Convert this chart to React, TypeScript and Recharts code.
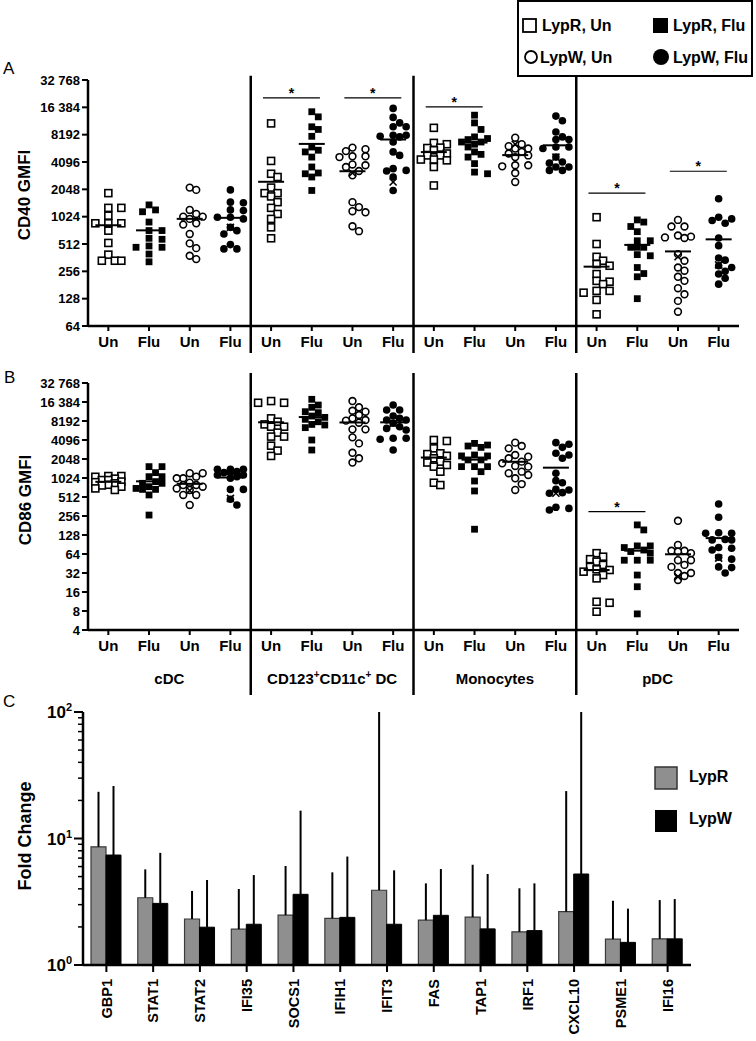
import React from 'react';
import {
  ScatterChart,
  Scatter,
  XAxis,
  YAxis,
  ReferenceLine,
  ReferenceDot,
  BarChart,
  Bar,
  ErrorBar,
} from 'recharts';

const FONT = '"Liberation Sans", Arial, Helvetica, sans-serif';

// ---------- categories / labels ----------
const cellTypes = ['cDC', 'CD123+CD11c+ DC', 'Monocytes', 'pDC'];
const conditionLabels = ['Un', 'Flu', 'Un', 'Flu'];
const legendLabels = ['LypR, Un', 'LypR, Flu', 'LypW, Un', 'LypW, Flu'];
const cd40Ticks = [64, 128, 256, 512, 1024, 2048, 4096, 8192, 16384, 32768];
const cd86Ticks = [4, 8, 16, 32, 64, 128, 256, 512, 1024, 2048, 4096, 8192, 16384, 32768];

// ---------- Panel A: CD40 GMFI (per cell type: cDC, CD123+CD11c+ DC, Monocytes, pDC) ----------
const cd40LypRUn = [
  [1860, 1280, 1280, 1050, 866, 866, 866, 718, 526, 391, 335, 335, 335],
  [10900, 4210, 3040, 2800, 2140, 1860, 1860, 1710, 1480, 1280, 1097, 968, 781, 592],
  [9740, 6650, 6430, 5900, 5840, 5520, 5080, 4840, 4840, 4360, 4360, 4270, 3610, 2260],
  [1010, 512, 370, 335, 308, 295, 239, 201, 197, 185, 156, 156, 149, 124, 86],
];
const cd40LypRFlu = [
  [1380, 1215, 1160, 893, 720, 720, 592, 577, 487, 471, 471, 397, 326],
  [14650, 12870, 10000, 9350, 7860, 5990, 5520, 5290, 4640, 3610, 3100, 3040, 2800, 1990],
  [13430, 11040, 9350, 7740, 7430, 7230, 6800, 6800, 6430, 5990, 5290, 4970, 4640, 3930, 3170, 3040],
  [943, 893, 798, 700, 556, 556, 471, 471, 471, 391, 380, 282, 242, 223, 128],
];
const cd40LypWUn = [
  [2140, 2020, 1215, 1097, 1024, 1024, 968, 866, 837, 661, 520, 461, 380, 349],
  [5900, 5670, 5400, 4730, 4640, 4730, 3850, 3770, 3610, 3260, 2920, 1480, 1305, 1176, 1144, 803, 709],
  [7590, 6430, 6120, 5760, 5760, 5290, 5080, 4840, 4640, 3770, 3770, 3670, 3100, 2470],
  [943, 798, 798, 635, 617, 605, 596, 396, 335, 282, 260, 223, 201, 167, 143, 121, 92],
];
const cd40LypWFlu = [
  [2020, 1480, 1456, 1215, 1195, 1008, 1008, 968, 781, 718, 661, 504, 452, 452],
  [15950, 12690, 11040, 10000, 10000, 8080, 8080, 7860, 7740, 6800, 5290, 4840, 3460, 3310, 3260, 2800, 1990],
  [13120, 11660, 8780, 7740, 7230, 7230, 5990, 5990, 5760, 4640, 4096, 3980, 3610, 3610, 3310, 3310],
  [1610, 1010, 968, 930, 866, 596, 491, 359, 340, 295, 282, 256, 239, 215, 185],
];
// marked donor (×) per column 0..15
const cd40Marked = [null, null, null, 781, null, null, 3100, 2470, null, null, 6430, 4640, null, null, 370, 302];
// significance bars: [from column, to column, level]
const cd40Significance = [
  [4, 5, 20870],
  [6, 7, 20870],
  [8, 9, 16600],
  [12, 13, 1860],
  [14, 15, 3240],
];

// ---------- Panel B: CD86 GMFI ----------
const cd86LypRUn = [
  [1100, 1100, 1070, 1000, 950, 950, 900, 880, 843, 800, 780, 746, 700, 662],
  [16950, 15930, 15930, 9020, 7970, 7230, 6650, 6650, 5360, 4640, 4640, 3330, 2780, 2290],
  [4096, 3950, 3020, 2520, 2450, 2300, 2100, 1860, 1800, 1645, 1550, 1290, 862, 792],
  [66, 58, 53, 48.5, 43, 40, 36.6, 35.7, 33.6, 29.7, 26.3, 11.2, 10.8, 7.8],
];
const cd86LypRFlu = [
  [1550, 1550, 1245, 1075, 1075, 897, 843, 843, 746, 700, 676, 676, 552, 265],
  [18070, 14670, 13500, 11500, 11100, 9820, 9350, 8710, 7970, 7230, 7080, 6430, 4096, 2840],
  [3620, 3410, 3290, 3130, 2370, 2290, 2290, 1980, 1980, 1550, 1550, 1550, 1290, 918, 638, 158],
  [185, 154, 86, 86, 81, 74, 70, 66, 51, 51, 51, 29.7, 19.4, 7.2],
];
const cd86LypWUn = [
  [1220, 1220, 1075, 1012, 1012, 862, 792, 792, 746, 700, 662, 552, 552, 383],
  [16950, 13500, 11900, 11500, 10200, 9020, 8480, 8300, 7700, 6040, 6040, 4510, 3620, 2570, 2100, 1800],
  [3720, 3290, 3020, 2370, 2230, 2100, 1860, 1750, 1590, 1550, 1290, 1220, 1144, 1012, 820, 662],
  [215, 89, 72, 72, 70, 66, 51, 51, 43, 40, 32, 32, 28.7, 24.8],
];
const cd86LypWFlu = [
  [1410, 1410, 1410, 1300, 1245, 1245, 1144, 1144, 1075, 1012, 676, 676, 471, 383],
  [14670, 12240, 12240, 9820, 9020, 8480, 8480, 7530, 6650, 6250, 5900, 4360, 4360, 4210, 2840],
  [3720, 3500, 3130, 2520, 2370, 2100, 1220, 930, 862, 676, 662, 600, 586, 352, 338, 319],
  [396, 244, 139, 136, 136, 109, 107, 107, 81, 79, 74, 57, 53, 40, 39, 32],
];
const cd86Marked = [null, null, 650, 487, null, null, null, 7530, null, null, null, 586, null, null, 28, 55];
const cd86Significance = [[12, 13, 300]];

// ---------- Panel C: fold change ----------
const genes = ['GBP1', 'STAT1', 'STAT2', 'IFI35', 'SOCS1', 'IFIH1', 'IFIT3', 'FAS', 'TAP1', 'IRF1', 'CXCL10', 'PSME1', 'IFI16'];
const lyprFold = [8.6, 3.4, 2.31, 1.92, 2.48, 2.34, 3.9, 2.26, 2.39, 1.83, 2.64, 1.6, 1.61];
const lyprUpper = [23.4, 5.7, 3.85, 3.99, 6.06, 5.4, 100, 4.42, 6.2, 4.04, 23.7, 3.22, 3.26];
const lypwFold = [7.4, 3.07, 1.99, 2.1, 3.62, 2.38, 2.1, 2.47, 1.93, 1.87, 5.24, 1.51, 1.61];
const lypwUpper = [26, 7.7, 4.7, 5.14, 16.6, 7.2, 5.6, 5.74, 5.24, 4.42, 100, 2.79, 3.32];
const foldTicks = [1, 2, 3, 4, 5, 6, 7, 8, 9, 10, 20, 30, 40, 50, 60, 70, 80, 90, 100];

// ---------- helpers ----------
const BAND_PX = 651 / 16;

type Pt = { x: number; y: number };

// compact beeswarm: spread points horizontally (at most two steps) when they would overlap
function swarm(values: number[], col: number, pxPerLog2: number): Pt[] {
  const sorted = [...values].sort((a, b) => b - a);
  const placed: { dx: number; py: number; v: number }[] = [];
  const step = 6.5;
  const offsets = [0, 1, -1, 2, -2];
  for (const v of sorted) {
    const py = Math.log2(v) * pxPerLog2;
    let best = 0;
    let bestScore = -Infinity;
    for (const k of offsets) {
      const dx = k * step;
      let minD = Infinity;
      for (const p of placed) {
        const d = Math.hypot((p.dx - dx) * 1.0, p.py - py);
        if (d < minD) minD = d;
      }
      if (minD >= 6.8) {
        best = dx;
        bestScore = Infinity;
        break;
      }
      if (minD > bestScore) {
        bestScore = minD;
        best = dx;
      }
    }
    placed.push({ dx: best, py, v });
  }
  return placed.map((p) => ({ x: col + p.dx / BAND_PX, y: p.v }));
}

const mean = (a: number[]) => a.reduce((s, v) => s + v, 0) / a.length;

const fmtTick = (v: number) =>
  v >= 10000 ? `${Math.floor(v / 1000)} ${String(v % 1000).padStart(3, '0')}` : String(v);

const OpenSquare = (p: any) => (
  <rect x={p.cx - 3.5} y={p.cy - 3.5} width={7} height={7} fill="#fff" stroke="#000" strokeWidth={1.6} />
);
const FilledSquare = (p: any) => <rect x={p.cx - 3.4} y={p.cy - 3.4} width={6.8} height={6.8} fill="#000" />;
const OpenCircle = (p: any) => <circle cx={p.cx} cy={p.cy} r={3.4} fill="#fff" stroke="#000" strokeWidth={1.6} />;
const FilledCircle = (p: any) => <circle cx={p.cx} cy={p.cy} r={3.8} fill="#000" />;
const MeanLine = (p: any) => (
  <line x1={p.cx - 13} x2={p.cx + 13} y1={p.cy} y2={p.cy} stroke="#000" strokeWidth={2} />
);
const Cross = (p: any) => (
  <g stroke="#000" strokeWidth={1.6}>
    <line x1={p.cx - 3.5} y1={p.cy - 3.5} x2={p.cx + 3.5} y2={p.cy + 3.5} />
    <line x1={p.cx - 3.5} y1={p.cy + 3.5} x2={p.cx + 3.5} y2={p.cy - 3.5} />
  </g>
);
const shapes = [OpenSquare, FilledSquare, OpenCircle, FilledCircle];

function GroupTick(props: any) {
  const { x, y, payload } = props;
  const label = cellTypes[Math.round((payload.value - 1.5) / 4)] || '';
  const parts = label.split('+');
  const kids: any[] = [];
  parts.forEach((p, i) => {
    if (i > 0)
      kids.push(
        <tspan key={'s' + i} dy={-6} fontSize={10}>
          +
        </tspan>
      );
    kids.push(
      <tspan key={'t' + i} dy={i > 0 ? 6 : 0} fontSize={15}>
        {p}
      </tspan>
    );
  });
  return (
    <text x={x} y={y + 24} textAnchor="middle" fontFamily={FONT} fontWeight={700} fill="#000">
      {kids}
    </text>
  );
}

type PanelProps = {
  top: number;
  height: number;
  marginTop: number;
  marginBottom: number;
  yDomain: [number, number];
  yTicks: number[];
  pxPerLog2: number;
  groups: number[][][];
  marked: (number | null)[];
  sig: number[][];
  sepRange: [number, number];
  showGroups: boolean;
};

function DotPanel(props: PanelProps) {
  const { top, height, marginTop, marginBottom, yDomain, yTicks, pxPerLog2, groups, marked, sig, sepRange, showGroups } =
    props;
  const seriesData = groups.map((cond, k) =>
    cond.flatMap((vals, c) => swarm(vals, c * 4 + k, pxPerLog2))
  );
  const means: Pt[] = [];
  for (let c = 0; c < 4; c++) for (let k = 0; k < 4; k++) means.push({ x: c * 4 + k, y: mean(groups[k][c]) });
  const crosses: Pt[] = marked
    .map((v, i) => (v == null ? null : { x: i, y: v }))
    .filter((p): p is Pt => p != null);
  const tickStyle = { fill: '#000', fontSize: 13, fontWeight: 700, fontFamily: FONT };
  return (
    <div style={{ position: 'absolute', left: 0, top, width: 756, height }}>
      <ScatterChart
        width={756}
        height={height}
        margin={{ top: marginTop, right: 17, bottom: marginBottom, left: 0 }}
      >
        <XAxis
          dataKey="x"
          type="number"
          domain={[-0.5, 15.5]}
          ticks={[0, 1, 2, 3, 4, 5, 6, 7, 8, 9, 10, 11, 12, 13, 14, 15]}
          interval={0}
          allowDataOverflow
          tickFormatter={(v: number) => conditionLabels[Math.round(v) % 4]}
          height={30}
          tickSize={5}
          tickMargin={5}
          stroke="#000"
          axisLine={{ stroke: '#000', strokeWidth: 2.5 }}
          tickLine={{ stroke: '#000', strokeWidth: 2 }}
          tick={{ fill: '#000', fontSize: 15, fontWeight: 700, fontFamily: FONT }}
        />
        {showGroups && (
          <XAxis
            xAxisId="grp"
            dataKey="x"
            type="number"
            domain={[-0.5, 15.5]}
            ticks={[1.5, 5.5, 9.5, 13.5]}
            interval={0}
            allowDataOverflow
            height={38}
            axisLine={false}
            tickLine={false}
            tickSize={0}
            tickMargin={0}
            tick={<GroupTick />}
          />
        )}
        <YAxis
          dataKey="y"
          type="number"
          scale="log"
          domain={yDomain}
          ticks={yTicks}
          interval={0}
          allowDataOverflow
          width={88}
          tickSize={6}
          tickMargin={2}
          tickFormatter={fmtTick}
          stroke="#000"
          axisLine={{ stroke: '#000', strokeWidth: 2.5 }}
          tickLine={{ stroke: '#000', strokeWidth: 2 }}
          tick={tickStyle}
        />
        {[3.5, 7.5, 11.5].map((sx) => (
          <ReferenceLine
            key={'sep' + sx}
            segment={[
              { x: sx, y: sepRange[0] },
              { x: sx, y: sepRange[1] },
            ]}
            ifOverflow="visible"
            stroke="#000"
            strokeWidth={2.5}
          />
        ))}
        {seriesData.map((d, k) => (
          <Scatter
            key={'s' + k}
            name={legendLabels[k]}
            data={d}
            shape={shapes[k]}
            isAnimationActive={false}
          />
        ))}
        <Scatter name="marked" data={crosses} shape={Cross} isAnimationActive={false} />
        <Scatter name="mean" data={means} shape={MeanLine} isAnimationActive={false} />
        {sig.map(([a, b, lvl], i) => (
          <ReferenceLine
            key={'sig' + i}
            segment={[
              { x: a - 0.2, y: lvl },
              { x: b + 0.2, y: lvl },
            ]}
            ifOverflow="visible"
            stroke="#000"
            strokeWidth={1.2}
          />
        ))}
        {sig.map(([a, b, lvl], i) => (
          <ReferenceDot
            key={'star' + i}
            x={(a + b) / 2}
            y={lvl}
            ifOverflow="visible"
            shape={(p: any) => (
              <text x={p.cx} y={p.cy} textAnchor="middle" fontFamily={FONT} fontWeight={700} fontSize={14} fill="#000">
                *
              </text>
            )}
          />
        ))}
      </ScatterChart>
    </div>
  );
}

function GeneTick(props: any) {
  const { x, y, payload } = props;
  const ay = y + 5;
  return (
    <text
      x={x}
      y={ay}
      transform={`rotate(-90 ${x} ${ay})`}
      textAnchor="end"
      dy="0.36em"
      fontFamily={FONT}
      fontWeight={700}
      fontSize={14.5}
      fill="#000"
    >
      {payload.value}
    </text>
  );
}

function LogTick(props: any) {
  const { x, y, payload } = props;
  const v = payload.value as number;
  const exp = Math.log10(v);
  const major = Math.abs(exp - Math.round(exp)) < 1e-6;
  return (
    <g>
      <line x1={x - (major ? 9 : 5)} x2={x} y1={y} y2={y} stroke="#000" strokeWidth={major ? 2 : 1.5} />
      {major && (
        <text x={x - 11} y={y + 6} textAnchor="end" fontFamily={FONT} fontWeight={700} fill="#000">
          <tspan fontSize={17}>10</tspan>
          <tspan fontSize={11} dy={-7}>
            {String(Math.round(exp))}
          </tspan>
        </text>
      )}
    </g>
  );
}

function FoldPanel() {
  const data = genes.map((g, i) => ({
    gene: g,
    lypr: lyprFold[i],
    lyprErr: [0, lyprUpper[i] - lyprFold[i]],
    lypw: lypwFold[i],
    lypwErr: [0, lypwUpper[i] - lypwFold[i]],
  }));
  return (
    <div style={{ position: 'absolute', left: 0, top: 700, width: 756, height: 341 }}>
      <BarChart
        width={756}
        height={341}
        data={data}
        margin={{ top: 12, right: 65, bottom: 0, left: 0 }}
        barGap={0}
        barSize={15}
      >
        <XAxis
          dataKey="gene"
          height={76}
          interval={0}
          tickSize={7}
          tickMargin={2}
          stroke="#000"
          axisLine={{ stroke: '#000', strokeWidth: 2.5 }}
          tickLine={{ stroke: '#000', strokeWidth: 2 }}
          tick={<GeneTick />}
        />
        <YAxis
          type="number"
          scale="log"
          domain={[1, 100]}
          ticks={foldTicks}
          interval={0}
          allowDataOverflow
          width={83}
          tickSize={0}
          tickMargin={0}
          tickLine={false}
          stroke="#000"
          axisLine={{ stroke: '#000', strokeWidth: 2.5 }}
          tick={<LogTick />}
        />
        <Bar dataKey="lypr" name="LypR" fill="#8f8f8f" stroke="#3a3a3a" strokeWidth={1.2} isAnimationActive={false}>
          <ErrorBar dataKey="lyprErr" width={0} stroke="#000" strokeWidth={2} direction="y" />
        </Bar>
        <Bar dataKey="lypw" name="LypW" fill="#000" stroke="#000" strokeWidth={1} isAnimationActive={false}>
          <ErrorBar dataKey="lypwErr" width={0} stroke="#000" strokeWidth={2} direction="y" />
        </Bar>
      </BarChart>
    </div>
  );
}

function Overlay() {
  const t = { fontFamily: FONT, fill: '#000' } as const;
  return (
    <svg
      width={756}
      height={1041}
      style={{ position: 'absolute', left: 0, top: 0, pointerEvents: 'none' }}
    >
      {/* panel letters */}
      <text x={3} y={74} fontSize={17} {...t}>A</text>
      <text x={4} y={383} fontSize={17} {...t}>B</text>
      <text x={3} y={707} fontSize={17} {...t}>C</text>
      {/* axis titles */}
      <text transform="translate(30,195) rotate(-90)" textAnchor="middle" fontSize={17} fontWeight={700} {...t}>
        CD40 GMFI
      </text>
      <text transform="translate(31,500) rotate(-90)" textAnchor="middle" fontSize={17} fontWeight={700} {...t}>
        CD86 GMFI
      </text>
      <text transform="translate(31,836) rotate(-90)" textAnchor="middle" fontSize={18} fontWeight={700} {...t}>
        Fold Change
      </text>
      {/* legend panels A/B */}
      <rect x={518} y={1} width={234} height={75} fill="#fff" stroke="#000" strokeWidth={2} />
      <rect x={523} y={19} width={13} height={13} fill="#fff" stroke="#000" strokeWidth={1.8} />
      <text x={542} y={31} fontSize={16} fontWeight={700} {...t}>{legendLabels[0]}</text>
      <rect x={653} y={18} width={15} height={15} fill="#000" />
      <text x={673} y={31} fontSize={16} fontWeight={700} {...t}>{legendLabels[1]}</text>
      <circle cx={531} cy={57} r={6} fill="#fff" stroke="#000" strokeWidth={1.8} />
      <text x={540} y={63} fontSize={16} fontWeight={700} {...t}>{legendLabels[2]}</text>
      <circle cx={661} cy={57} r={8} fill="#000" />
      <text x={673} y={63} fontSize={16} fontWeight={700} {...t}>{legendLabels[3]}</text>
      {/* legend panel C */}
      <rect x={655} y={767} width={22} height={22} fill="#8f8f8f" stroke="#333" strokeWidth={1.5} />
      <text x={689} y={782} fontSize={16} fontWeight={700} {...t}>LypR</text>
      <rect x={655} y={810} width={22} height={22} fill="#000" />
      <text x={689} y={824} fontSize={16} fontWeight={700} {...t}>LypW</text>
    </svg>
  );
}

export default function App() {
  return (
    <div
      style={{
        position: 'absolute',
        left: 0,
        top: 0,
        width: 756,
        height: 1041,
        background: '#fff',
        fontFamily: FONT,
        overflow: 'hidden',
      }}
    >
      <DotPanel
        top={0}
        height={360}
        marginTop={80}
        marginBottom={4}
        yDomain={[64, 32768]}
        yTicks={cd40Ticks}
        pxPerLog2={246 / 9}
        groups={[cd40LypRUn, cd40LypRFlu, cd40LypWUn, cd40LypWFlu]}
        marked={cd40Marked}
        sig={cd40Significance}
        sepRange={[36400, 32.3]}
        showGroups={false}
      />
      <DotPanel
        top={360}
        height={340}
        marginTop={23}
        marginBottom={2}
        yDomain={[4, 32768]}
        yTicks={cd86Ticks}
        pxPerLog2={247 / 13}
        groups={[cd86LypRUn, cd86LypRFlu, cd86LypWUn, cd86LypWFlu]}
        marked={cd86Marked}
        sig={cd86Significance}
        sepRange={[47200, 0.374]}
        showGroups={true}
      />
      <FoldPanel />
      <Overlay />
    </div>
  );
}
